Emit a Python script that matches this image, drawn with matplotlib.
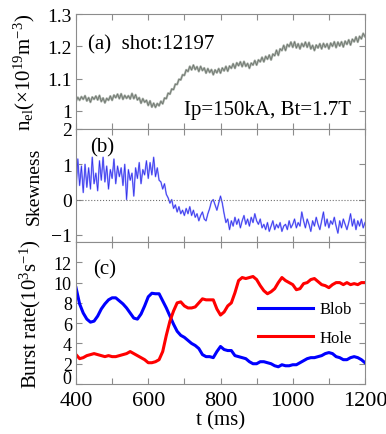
import matplotlib
matplotlib.use("Agg")
import matplotlib.pyplot as plt
import numpy as np

plt.rcParams.update({
    "font.family": ["Liberation Serif", "DejaVu Serif"],
    "mathtext.fontset": "custom",
    "mathtext.rm": "Liberation Serif",
    "mathtext.it": "Liberation Serif:italic",
    "mathtext.default": "regular",
    "axes.edgecolor": "#8c8c8c",
    "xtick.color": "#8c8c8c",
    "ytick.color": "#8c8c8c",
    "xtick.labelcolor": "black",
    "ytick.labelcolor": "black",
})

# ---- data ----
t_fast = np.arange(400, 1201, 5)     # 5 ms sampling for panels (a), (b)
t_rate = np.arange(400, 1201, 10)    # 10 ms sampling for panel (c)

ne = [
    1.030, 1.042, 1.033, 1.044, 1.036, 1.047, 1.031, 1.041,
    1.027, 1.043, 1.036, 1.046, 1.034, 1.048, 1.029, 1.040,
    1.025, 1.039, 1.033, 1.046, 1.033, 1.049, 1.041, 1.052,
    1.038, 1.053, 1.036, 1.048, 1.039, 1.047, 1.037, 1.054,
    1.038, 1.050, 1.034, 1.041, 1.024, 1.038, 1.027, 1.033,
    1.017, 1.031, 1.012, 1.024, 1.011, 1.023, 1.016, 1.030,
    1.022, 1.040, 1.038, 1.055, 1.052, 1.068, 1.066, 1.083,
    1.082, 1.098, 1.096, 1.112, 1.110, 1.127, 1.122, 1.138,
    1.127, 1.142, 1.128, 1.137, 1.122, 1.138, 1.125, 1.133,
    1.117, 1.131, 1.119, 1.128, 1.112, 1.127, 1.118, 1.131,
    1.117, 1.133, 1.124, 1.138, 1.123, 1.139, 1.132, 1.146,
    1.132, 1.149, 1.140, 1.152, 1.137, 1.153, 1.138, 1.147,
    1.132, 1.148, 1.142, 1.156, 1.142, 1.158, 1.152, 1.166,
    1.152, 1.169, 1.160, 1.173, 1.158, 1.176, 1.171, 1.188,
    1.172, 1.192, 1.187, 1.203, 1.187, 1.206, 1.199, 1.213,
    1.197, 1.214, 1.195, 1.208, 1.192, 1.209, 1.199, 1.213,
    1.197, 1.212, 1.192, 1.203, 1.187, 1.204, 1.195, 1.208,
    1.192, 1.209, 1.197, 1.208, 1.192, 1.210, 1.200, 1.214,
    1.196, 1.213, 1.201, 1.214, 1.198, 1.216, 1.206, 1.220,
    1.204, 1.222, 1.214, 1.229, 1.213, 1.231, 1.223, 1.240,
    1.230,
]

skew = [
    0.25, 1.15, 0.40, 0.95, 0.20, 1.00, 0.35, 0.90,
    0.30, 1.20, 0.45, 0.75, 0.25, 1.10, 0.55, 1.20,
    0.50, 0.95, 0.30, 0.85, 0.60, 1.15, 0.45, 0.95,
    0.65, 0.90, 0.40, 1.00, 0.00, 0.85, 0.55, 0.75,
    0.10, 0.90, 0.60, 1.05, 0.45, 0.85, 0.70, 1.10,
    0.60, 1.05, 0.70, 1.20, 0.65, 0.90, 0.55, 0.50,
    0.30, 0.45, 0.15, 0.05, -0.10, 0.00, -0.25, -0.15,
    -0.35, -0.20, -0.40, -0.30, -0.45, -0.25, -0.40, -0.20,
    -0.45, -0.30, -0.50, -0.40, -0.60, -0.45, -0.35, -0.55,
    -0.60, -0.40, -0.25, -0.05, 0.00, -0.15, -0.30, -0.10,
    0.10, -0.10, -0.40, -0.65, -0.55, -0.85, -0.60, -0.75,
    -0.50, -0.70, -0.55, -0.80, -0.60, -0.45, -0.70, -0.55,
    -0.75, -0.50, -0.65, -0.40, -0.60, -0.70, -0.55, -0.80,
    -0.70, -0.85, -0.65, -0.90, -0.75, -0.60, -0.85, -0.70,
    -0.80, -0.65, -0.90, -0.75, -0.70, -0.85, -0.60, -0.80,
    -0.70, -0.55, -0.80, -0.65, -0.75, -0.35, -0.60, -0.80,
    -0.55, -0.70, -0.90, -0.60, -0.75, -0.50, -0.70, -0.85,
    -0.60, -0.35, -0.75, -0.55, -0.80, -0.60, -0.70, -0.50,
    -0.75, -0.95, -0.60, -0.80, -0.55, -0.70, -0.85, -0.65,
    -0.40, -0.75, -0.55, -0.85, -0.60, -0.75, -0.55, -0.80,
    -0.65,
]

blob = [
    9.5, 7.9, 7.0, 6.4, 6.1, 6.2, 6.7, 7.4, 7.9, 8.3,
    8.5, 8.5, 8.2, 7.9, 7.5, 7.0, 6.5, 6.4, 6.9, 7.7,
    8.6, 8.95, 8.9, 8.9, 8.2, 7.5, 6.7, 5.9, 5.2, 4.8,
    4.6, 4.3, 4.0, 3.8, 3.5, 2.9, 2.7, 2.7, 2.6, 3.2,
    3.7, 3.4, 3.3, 3.3, 2.8, 2.7, 2.6, 2.5, 2.2, 2.0,
    2.0, 2.2, 2.2, 2.1, 2.0, 1.8, 1.7, 1.9, 1.8, 1.8,
    1.9, 1.9, 2.1, 2.3, 2.5, 2.6, 2.6, 2.7, 2.8, 3.0,
    3.1, 3.0, 2.7, 2.6, 2.4, 2.4, 2.6, 2.7, 2.6, 2.4,
    2.1,
]

hole = [
    2.9, 2.5, 2.6, 2.8, 2.9, 3.0, 2.9, 2.8, 2.7, 2.8,
    2.7, 2.7, 2.8, 2.9, 3.0, 3.2, 3.0, 2.8, 2.6, 2.4,
    2.1, 2.1, 2.2, 2.4, 3.2, 4.8, 6.2, 7.2, 8.0, 8.1,
    7.7, 7.5, 7.5, 7.6, 8.0, 8.4, 8.3, 8.3, 8.3, 7.4,
    6.8, 7.1, 7.7, 8.0, 9.0, 10.2, 10.5, 10.4, 10.5, 10.6,
    10.3, 9.7, 9.2, 8.9, 9.1, 9.4, 10.0, 10.5, 10.2, 10.0,
    9.8, 9.3, 9.4, 9.9, 10.0, 10.3, 10.4, 10.1, 9.8, 9.7,
    9.5, 9.8, 10.0, 10.0, 9.8, 10.0, 9.8, 9.9, 9.8, 10.0,
    10.0,
]

x_ticks = np.arange(400, 1201, 100)
x_labels = ["400", "", "600", "", "800", "", "1000", "", "1200"]
rate_ticks = np.arange(0, 13, 2)
rate_labels = ["", "2", "4", "6", "8", "10", "12"]

fig = plt.figure(figsize=(3.86, 4.35), dpi=100)
left, width = 0.1969, 0.7487
ax_a = fig.add_axes([left, 0.7011, width, 0.2644])
ax_b = fig.add_axes([left, 0.4414, width, 0.2598])
ax_c = fig.add_axes([left, 0.1149, width, 0.3264])

for ax in (ax_a, ax_b, ax_c):
    ax.set_xlim(400, 1200)
    ax.set_xticks(x_ticks)
    ax.tick_params(direction="in", top=True, right=True, length=4,
                   width=0.8, labelsize=14, pad=3)
    for s in ax.spines.values():
        s.set_linewidth(0.8)

# (a) density
ax_a.plot(t_fast, ne, color="#a8b0a8", linewidth=1.6)
ax_a.plot(t_fast, ne, color="#6a706a", linewidth=0.5)
ax_a.set_ylim(0.944, 1.3)
ax_a.set_yticks([1.0, 1.1, 1.2, 1.3])
ax_a.set_yticklabels(["1", "1.1", "1.2", "1.3"])
ax_a.set_xticklabels([])
ax_a.set_ylabel(r"n$_{el}$(×10$^{19}$m$^{-3}$)", fontsize=15)
ax_a.yaxis.set_label_coords(-0.135, 0.5)
ax_a.text(0.04, 0.70, "(a)  shot:12197", transform=ax_a.transAxes, fontsize=15)
ax_a.text(0.375, 0.13, "Ip=150kA, Bt=1.7T", transform=ax_a.transAxes, fontsize=15)

# (b) skewness
ax_b.plot(t_fast, skew, color="#9c9cff", linewidth=1.2)
ax_b.plot(t_fast, skew, color="#3030e8", linewidth=0.5)
ax_b.axhline(0, color="#707070", linestyle=":", linewidth=0.8)
ax_b.set_ylim(-1.2, 2.0)
ax_b.set_yticks([-1, 0, 1, 2])
ax_b.set_xticklabels([])
ax_b.set_ylabel("Skewness", fontsize=14)
ax_b.yaxis.set_label_coords(-0.115, 0.5)
ax_b.text(0.05, 0.80, "(b)", transform=ax_b.transAxes, fontsize=15)

# (c) burst rates
ax_c.plot(t_rate, blob, color="#0000ff", linewidth=2.2, label="Blob")
ax_c.plot(t_rate, hole, color="#ff0000", linewidth=2.2, label="Hole")
ax_c.set_ylim(0, 14)
ax_c.set_yticks(rate_ticks)
ax_c.set_yticklabels(rate_labels)
ax_c.tick_params(axis="y", labelsize=13)
# the "0" sits a little above its tick in the original, clear of "400"
ax_c.text(-0.018, 0.036, "0", transform=ax_c.transAxes, fontsize=13,
          ha="right", va="center")
ax_c.set_xticklabels(x_labels)
ax_c.tick_params(axis="x", labelsize=16, pad=5)
ax_c.set_xlabel("t (ms)", fontsize=15, labelpad=0)
ax_c.set_ylabel(r"Burst rate(10$^{3}$s$^{-1}$)", fontsize=15)
ax_c.yaxis.set_label_coords(-0.115, 0.5)
ax_c.text(0.06, 0.78, "(c)", transform=ax_c.transAxes, fontsize=15)
ax_c.legend(loc="center left", bbox_to_anchor=(0.63, 0.425), frameon=False,
            fontsize=12, handlelength=3.3, handletextpad=0.4, labelspacing=0.75,
            borderpad=0, borderaxespad=0)

fig.savefig("out.png", dpi=100)
